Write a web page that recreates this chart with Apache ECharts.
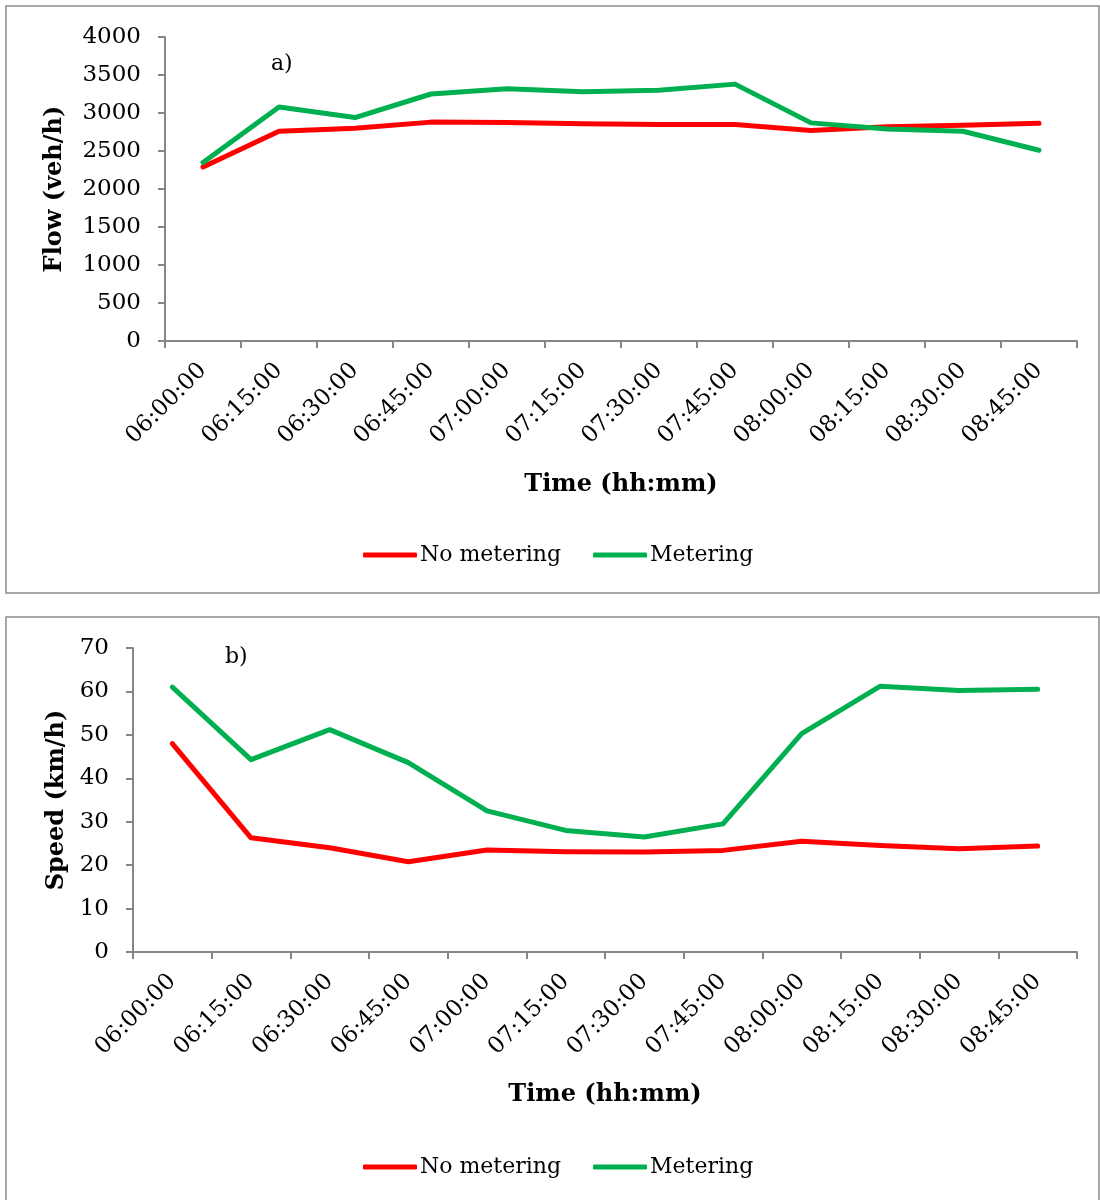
<!DOCTYPE html>
<html>
<head>
<meta charset="utf-8">
<script src="https://cdn.jsdelivr.net/npm/echarts@6/dist/echarts.min.js"></script>
<style>
  html, body { margin: 0; padding: 0; background: #fff; }
  #chart { width: 1100px; height: 1200px; }
</style>
</head>
<body>
<div id="chart"></div>
<script>
// Time slots (15-minute intervals)
const timeSlots = ['06:00:00', '06:15:00', '06:30:00', '06:45:00', '07:00:00', '07:15:00',
                   '07:30:00', '07:45:00', '08:00:00', '08:15:00', '08:30:00', '08:45:00'];

// a) Flow (veh/h)
const flowNoMetering = [2290, 2760, 2800, 2880, 2875, 2860, 2850, 2850, 2770, 2820, 2840, 2865];
const flowMetering   = [2350, 3080, 2940, 3250, 3320, 3280, 3300, 3380, 2870, 2790, 2760, 2510];

// b) Speed (km/h)
const speedNoMetering = [48, 26.3, 24, 20.8, 23.5, 23.1, 23, 23.4, 25.5, 24.5, 23.8, 24.4];
const speedMetering   = [61, 44.3, 51.2, 43.6, 32.5, 28, 26.5, 29.5, 50.3, 61.2, 60.2, 60.5];

const FONT = '"DejaVu Serif", "Liberation Serif", serif';
const AXIS_GRAY = '#868686';
const RED = '#FF0000';
const GREEN = '#00B050';

function xAxisFor(gridIndex, gap) {
  return {
    type: 'category',
    gridIndex: gridIndex,
    data: timeSlots,
    boundaryGap: true,
    name: 'Time (hh:mm)',
    nameLocation: 'middle',
    nameGap: gap,
    nameTextStyle: { fontFamily: FONT, fontWeight: 'bold', fontSize: 24, color: '#000' },
    axisLine: { lineStyle: { color: AXIS_GRAY, width: 2 } },
    axisTick: { show: true, length: 7, alignWithLabel: false, lineStyle: { color: AXIS_GRAY, width: 2 } },
    axisLabel: { rotate: 45, interval: 0, margin: 26, fontFamily: FONT, fontSize: 23, color: '#000' },
    splitLine: { show: false }
  };
}

function yAxisFor(gridIndex, name, max, interval, gap) {
  return {
    type: 'value',
    gridIndex: gridIndex,
    min: 0,
    max: max,
    interval: interval,
    name: name,
    nameLocation: 'middle',
    nameRotate: 90,
    nameGap: gap,
    nameTextStyle: { fontFamily: FONT, fontWeight: 'bold', fontSize: 24, color: '#000' },
    axisLine: { show: true, lineStyle: { color: AXIS_GRAY, width: 2 } },
    axisTick: { show: true, length: 7, lineStyle: { color: AXIS_GRAY, width: 2 } },
    axisLabel: { margin: 24, fontFamily: FONT, fontSize: 23, color: '#000',
                 formatter: (v) => String(v) },
    splitLine: { show: false }
  };
}

function lineSeries(name, data, color, axisIndex) {
  return {
    type: 'line',
    name: name,
    data: data,
    xAxisIndex: axisIndex,
    yAxisIndex: axisIndex,
    showSymbol: false,
    symbol: 'none',
    lineStyle: { color: color, width: 5, cap: 'round', join: 'round' },
    itemStyle: { color: color },
    animation: false
  };
}

function legendAt(top) {
  return {
    top: top,
    left: 358,
    itemWidth: 54,
    itemHeight: 5,
    itemGap: 32,
    icon: 'roundRect',
    data: ['No metering', 'Metering'],
    textStyle: { fontFamily: FONT, fontSize: 22, color: '#000', padding: [0, 0, 0, -2] }
  };
}

const chart = echarts.init(document.getElementById('chart'), null, { renderer: 'canvas' });

chart.setOption({
  backgroundColor: '#fff',
  animation: false,
  graphic: [
    { type: 'rect', shape: { x: 6, y: 6, width: 1093, height: 587 },
      style: { fill: 'none', stroke: '#8c8c8c', lineWidth: 1.5 }, z: -1 },
    { type: 'rect', shape: { x: 6, y: 617, width: 1093, height: 600 },
      style: { fill: 'none', stroke: '#8c8c8c', lineWidth: 1.5 }, z: -1 },
    { type: 'text', left: 271, top: 53,
      style: { text: 'a)', font: '22px ' + FONT, fill: '#000' } },
    { type: 'text', left: 225, top: 646,
      style: { text: 'b)', font: '22px ' + FONT, fill: '#000' } }
  ],
  grid: [
    { left: 165, top: 37, width: 912, height: 304 },
    { left: 133, top: 648, width: 944, height: 304 }
  ],
  xAxis: [xAxisFor(0, 132), xAxisFor(1, 131)],
  yAxis: [
    yAxisFor(0, 'Flow (veh/h)', 4000, 500, 98),
    yAxisFor(1, 'Speed (km/h)', 70, 10, 62)
  ],
  legend: [legendAt(539), legendAt(1151)],
  series: [
    lineSeries('No metering', flowNoMetering, RED, 0),
    lineSeries('Metering', flowMetering, GREEN, 0),
    lineSeries('No metering', speedNoMetering, RED, 1),
    lineSeries('Metering', speedMetering, GREEN, 1)
  ]
});
</script>
</body>
</html>
